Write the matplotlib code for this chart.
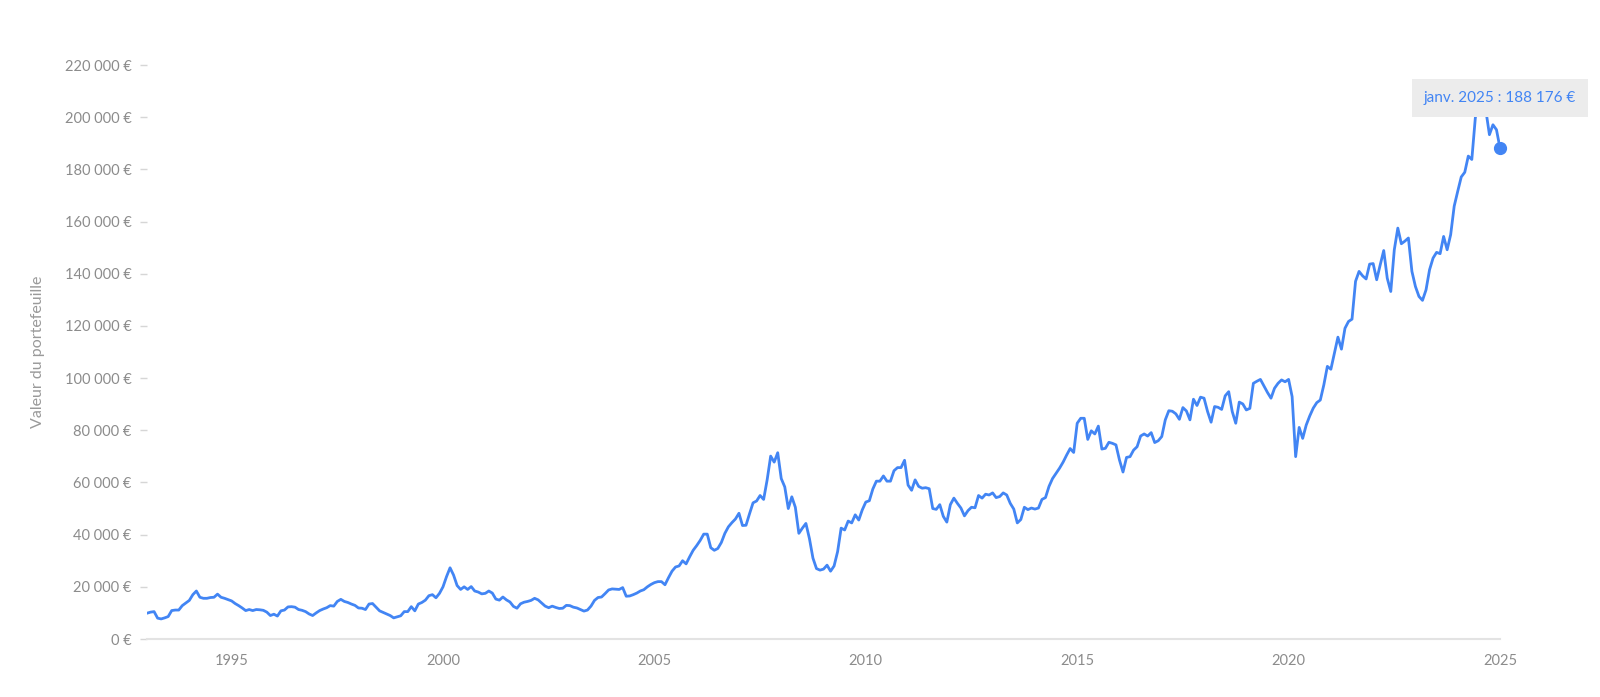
import numpy as np
import matplotlib.pyplot as plt
from matplotlib.ticker import FuncFormatter

plt.rcParams['font.family'] = ['Lato', 'DejaVu Sans']

# Monthly portfolio value (thousands of euros), Jan 1993 -> Jan 2025
values_1993_1997 = [
    9.9, 10.3, 10.5, 8.0, 7.7, 8.1, 8.6, 10.9, 11.1, 11.1, 12.8, 13.8,
    14.8, 17.0, 18.4, 16.0, 15.6, 15.6, 15.9, 16.0, 17.2, 16.0, 15.6, 15.1,
    14.6, 13.6, 12.8, 11.9, 10.9, 11.3, 10.9, 11.3, 11.2, 11.0, 10.3, 9.0,
    9.5, 8.8, 10.8, 11.1, 12.3, 12.4, 12.2, 11.3, 11.0, 10.5, 9.6, 9.0,
    10.0, 10.9, 11.5, 12.0, 12.8, 12.6, 14.4, 15.2, 14.4, 14.0, 13.4, 12.9,
]
values_1998_2002 = [
    11.9, 11.8, 11.3, 13.4, 13.6, 12.2, 10.8, 10.2, 9.6, 9.0, 8.1, 8.5,
    8.9, 10.5, 10.5, 12.4, 10.8, 13.4, 14.0, 14.9, 16.6, 17.0, 15.8, 17.5,
    20.0, 23.9, 27.3, 24.5, 20.5, 19.0, 20.0, 19.0, 20.1, 18.4, 18.0, 17.3,
    17.5, 18.4, 17.6, 15.3, 14.9, 16.1, 15.0, 14.2, 12.5, 11.8, 13.5, 14.1,
    14.4, 14.8, 15.6, 15.0, 13.8, 12.6, 12.0, 12.6, 12.1, 11.7, 11.8, 12.9,
]
values_2003_2007 = [
    12.8, 12.2, 11.9, 11.3, 10.7, 11.1, 12.6, 14.8, 15.9, 16.1, 17.4, 18.8,
    19.2, 19.1, 19.0, 19.7, 16.4, 16.5, 17.0, 17.6, 18.4, 18.9, 20.0, 20.9,
    21.6, 22.0, 22.0, 20.8, 23.5, 26.0, 27.6, 28.0, 30.0, 28.8, 31.5, 34.0,
    35.8, 37.8, 40.2, 40.2, 35.0, 34.0, 34.7, 37.0, 40.5, 43.0, 44.6, 46.0,
    48.2, 43.5, 43.6, 48.0, 52.2, 52.9, 55.0, 53.5, 61.0, 70.1, 67.8, 71.4,
]
values_2008_2012 = [
    61.5, 58.3, 50.0, 54.5, 50.5, 40.5, 42.5, 44.3, 38.5, 31.0, 27.0, 26.4,
    26.8, 28.3, 26.0, 28.0, 33.5, 42.5, 41.8, 45.2, 44.5, 47.6, 45.6, 49.5,
    52.5, 53.0, 57.5, 60.5, 60.5, 62.5, 60.5, 60.5, 64.5, 65.7, 65.7, 68.5,
    59.0, 57.0, 61.0, 58.5, 57.8, 58.0, 57.6, 50.0, 49.7, 51.5, 47.0, 44.8,
    51.5, 54.0, 52.0, 50.2, 47.2, 49.2, 50.5, 50.3, 55.0, 54.0, 55.5, 55.2,
]
values_2013_2017 = [
    56.0, 54.2, 54.6, 56.0, 55.2, 52.0, 49.8, 44.5, 45.8, 50.5, 49.6, 50.2,
    49.8, 50.2, 53.5, 54.2, 58.5, 61.5, 63.5, 65.5, 67.8, 70.5, 73.0, 71.5,
    82.7, 84.6, 84.6, 76.5, 79.8, 78.6, 81.6, 72.8, 73.1, 75.4, 75.0, 74.4,
    68.6, 64.0, 69.6, 69.9, 72.4, 73.7, 77.8, 78.6, 77.8, 79.1, 75.3, 76.0,
    77.6, 84.0, 87.5, 87.3, 86.3, 84.2, 88.7, 87.4, 84.0, 91.9, 89.5, 92.7,
]
values_2018_2022 = [
    92.3, 87.2, 83.1, 89.1, 88.8, 88.0, 93.2, 94.8, 87.2, 82.7, 90.8, 90.1,
    87.8, 88.4, 98.0, 98.8, 99.5, 97.0, 94.5, 92.3, 96.1, 98.0, 99.3, 98.6,
    99.5, 92.9, 69.9, 81.1, 76.9, 82.0, 85.5, 88.5, 90.6, 91.6, 97.4, 104.5,
    103.4, 109.5, 115.7, 111.1, 119.1, 121.7, 122.6, 137.1, 140.9, 139.2, 138.0, 143.7,
    143.9, 137.7, 143.4, 148.9, 138.3, 133.2, 149.2, 157.5, 151.5, 152.5, 153.7, 140.9,
]
values_2023_2025 = [
    135.1, 131.3, 129.8, 133.8, 141.5, 146.0, 148.2, 147.7, 154.3, 149.2, 155.0, 165.9,
    171.6, 177.1, 178.9, 185.1, 183.8, 199.8, 206.0, 207.0, 202.5, 193.3, 197.1, 195.2,
    188.176,
]

year_ticks = [1995, 2000, 2005, 2010, 2015, 2020, 2025]
y_ticks = list(range(0, 220001, 20000))
tooltip_label = 'janv. 2025'

values = np.array(values_1993_1997 + values_1998_2002 + values_2003_2007 +
                  values_2008_2012 + values_2013_2017 + values_2018_2022 +
                  values_2023_2025) * 1000
dates = 1993 + np.arange(len(values)) / 12

blue = '#4285f4'
grey = '#8c8c8c'


def euro(v, pos=None):
    return f"{v:,.0f}".replace(',', '\u202f') + ' €'


fig = plt.figure(figsize=(16, 6.97), dpi=100)
ax = fig.add_axes([0.0919, 0.0832, 0.8456, 0.8235])

ax.plot(dates, values, color=blue, lw=2.0, solid_joinstyle='round', zorder=3)
ax.plot(dates[-1], values[-1], 'o', color=blue, ms=8.5, zorder=4, clip_on=False)

ax.annotate(f"{tooltip_label} : {euro(values[-1])}",
            xy=(dates[-1], values[-1]), xytext=(0, 50), textcoords='offset pixels',
            ha='center', va='center', fontsize=11, color=blue, zorder=5,
            annotation_clip=False,
            bbox=dict(boxstyle='square,pad=0.8', fc='#ececec', ec='none'))

ax.set_xlim(1993, 2025)
ax.set_ylim(0, 220000)
ax.set_xticks(year_ticks)
ax.set_yticks(y_ticks)
ax.yaxis.set_major_formatter(FuncFormatter(euro))

for side in ['top', 'right', 'left']:
    ax.spines[side].set_visible(False)
ax.spines['bottom'].set_color('#e3e3e3')
ax.spines['bottom'].set_linewidth(1.5)

ax.tick_params(axis='y', length=5, width=1, color='#d6d6d6', pad=6,
               labelsize=10.5, labelcolor=grey)
ax.tick_params(axis='x', length=0, pad=11, labelsize=10.5, labelcolor=grey)

ax.set_ylabel('Valeur du portefeuille', fontsize=11.5, color='#9a9a9a', labelpad=14)

fig.savefig('out.png', dpi=100)
